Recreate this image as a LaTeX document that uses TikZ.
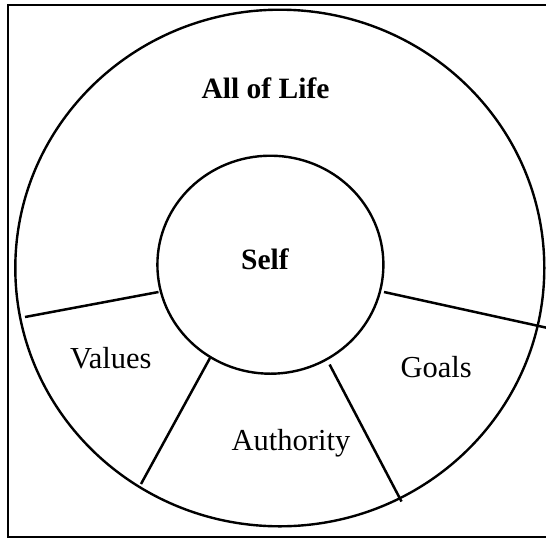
\documentclass[tikz,border=0pt]{standalone}
\usepackage{fontspec}
\setmainfont{Liberation Serif}
\begin{document}
\begin{tikzpicture}[x=1pt,y=-1pt,
  ring/.style={line width=2.4pt},
  divider/.style={line width=2.5pt},
  frameline/.style={line width=2.4pt},
  lab/.style={anchor=base,inner sep=0pt,font=\fontsize{30.5}{36}\selectfont},
  blab/.style={anchor=base,inner sep=0pt,font=\fontsize{29.5}{35}\selectfont\bfseries}]
\useasboundingbox (0,0) rectangle (546,539);
% frame (right side lies outside the picture)
\draw[frameline] (560,5) -- (8,5) -- (8,537) -- (560,537);
% circles
\draw[ring] (279.8,268) ellipse [x radius=264.5pt, y radius=258.3pt];
\draw[ring] (270.4,264.7) ellipse [x radius=113pt, y radius=109pt];
% divider end points
\coordinate (l1) at (25,317);
\coordinate (l2) at (158.5,292);
\coordinate (r1) at (384,292);
\coordinate (r2) at (547,327.8);
\coordinate (bl1) at (210,358);
\coordinate (bl2) at (141,484);
\coordinate (br1) at (329.6,364.5);
\coordinate (br2) at (401.5,501.5);
\draw[divider] (l1) -- (l2);
\draw[divider] (r1) -- (r2);
\draw[divider] (bl1) -- (bl2);
\draw[divider] (br1) -- (br2);
% labels
\node[blab] (life) at (265.5,98) {All of Life};
\node[blab] (self) at (265,269) {Self};
\node[lab] (values) at (110.8,368.3) {Values};
\node[lab] (goals) at (436.2,377.7) {Goals};
\node[lab] (auth) at (291,450) {Authority};
\end{tikzpicture}
\end{document}
